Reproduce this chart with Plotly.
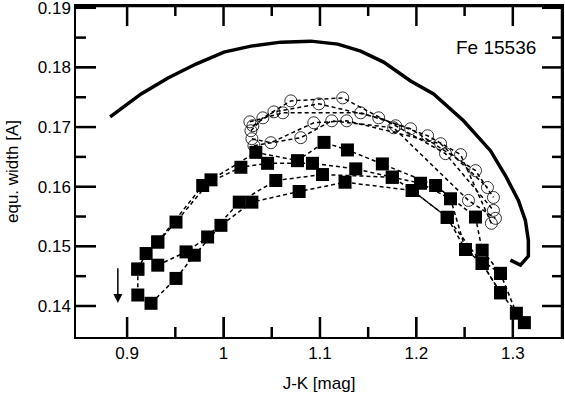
import plotly.graph_objects as go

# thick solid model curve
curve_x = [0.8824, 0.9145, 0.9424, 0.9714, 1.0004, 1.0284, 1.0594, 1.0905, 1.1184, 1.1422,
           1.1660, 1.1940, 1.2178, 1.2489, 1.2768, 1.2923, 1.3058, 1.3130, 1.3161, 1.3161,
           1.3079, 1.2975]
curve_y = [0.1717, 0.17556, 0.17823, 0.18057, 0.18257, 0.18357, 0.18424, 0.18441, 0.18391, 0.18274,
           0.18090, 0.17773, 0.17556, 0.17105, 0.16604, 0.16187, 0.15770, 0.15436, 0.15102, 0.14835,
           0.14684, 0.14768]

# filled squares, dashed
sq1_x = [0.9111, 0.9197, 0.9318, 0.9507, 0.9870, 1.0335, 1.0767, 1.1042, 1.1285, 1.1647, 1.2199, 1.2613, 1.2682, 1.2872, 1.3037]
sq1_y = [0.14618, 0.14880, 0.15073, 0.15407, 0.16115, 0.16576, 0.16437, 0.16743, 0.16616, 0.16382, 0.16020, 0.15491, 0.14935, 0.14546, 0.13878]
sq2_x = [0.9318, 0.9784, 1.0180, 1.0457, 1.0922, 1.1371, 1.1750, 1.2043, 1.2354, 1.2509, 1.2682, 1.2872, 1.3120]
sq2_y = [0.15073, 0.16020, 0.16326, 0.16392, 0.16392, 0.16299, 0.16159, 0.16058, 0.15798, 0.14947, 0.14713, 0.14222, 0.13721]
sq3_x = [0.9111, 0.9111, 0.9248, 0.9507, 0.9697, 0.9973, 1.0294, 1.0784, 1.1260, 1.1957, 1.2320, 1.2509, 1.2872]
sq3_y = [0.14618, 0.14184, 0.14045, 0.14462, 0.14851, 0.15352, 0.15741, 0.15920, 0.16075, 0.15937, 0.15486, 0.14947, 0.14546]
sq4_x = [0.9318, 0.9611, 0.9835, 1.0163, 1.0542, 1.1026, 1.1750, 1.1957, 1.2320, 1.2682, 1.2872]
sq4_y = [0.14684, 0.14907, 0.15157, 0.15741, 0.16104, 0.16204, 0.16159, 0.15937, 0.15486, 0.14713, 0.14222]

# open circles, dashed
c1_x = [1.0284, 1.0408, 1.0698, 1.1236, 1.1785, 1.2302, 1.2799]
c1_y = [0.16938, 0.17155, 0.17439, 0.17489, 0.17022, 0.16554, 0.15603]
c2_x = [1.0304, 1.0522, 1.0988, 1.1609, 1.2116, 1.2458, 1.2778]
c2_y = [0.17022, 0.17255, 0.17389, 0.17155, 0.16855, 0.16538, 0.15386]
c3_x = [1.0294, 1.0491, 1.0936, 1.1277, 1.2251, 1.2737]
c3_y = [0.16805, 0.16738, 0.17072, 0.17105, 0.16721, 0.15987]
c4_x = [1.0315, 1.0801, 1.1122, 1.1764, 1.2540, 1.2820]
c4_y = [0.16688, 0.16822, 0.17105, 0.16988, 0.15770, 0.15469]
c5_x = [1.0273, 1.0615, 1.1422, 1.1940, 1.2613, 1.2799]
c5_y = [0.17088, 0.17239, 0.17239, 0.16972, 0.16270, 0.15820]

arrow_x = 0.8904
arrow_y0 = 0.14656
arrow_y1 = 0.1405

# axes
x_range = [0.847, 1.351]
y_range = [0.1348, 0.1903]
x_major = [0.9, 1.0, 1.1, 1.2, 1.3]
x_labels = ["0.9", "1", "1.1", "1.2", "1.3"]
x_minor = [0.95, 1.05, 1.15, 1.25]
y_major = [0.14, 0.15, 0.16, 0.17, 0.18, 0.19]
y_minor = [0.145, 0.155, 0.165, 0.175, 0.185]

W, H = 565, 395
ML, MR, MT, MB = 76, 3, 6, 58
px_x = (x_range[1] - x_range[0]) / (W - ML - MR)   # data units per pixel
px_y = (y_range[1] - y_range[0]) / (H - MT - MB)

fig = go.Figure()

# inside ticks on all four sides and the top/right frame edges
frame_line = dict(color="black", width=2.5)
for vals, ln in [(x_major, 20), (x_minor, 10)]:
    for v in vals:
        fig.add_trace(go.Scatter(x=[v, v], y=[y_range[0], y_range[0] + ln * px_y],
                                 mode="lines", line=frame_line, hoverinfo="skip"))
        fig.add_trace(go.Scatter(x=[v, v], y=[y_range[1], y_range[1] - ln * px_y],
                                 mode="lines", line=frame_line, hoverinfo="skip"))
for vals, ln in [(y_major, 20), (y_minor, 10)]:
    for v in vals:
        if v >= y_range[1] - px_y:
            continue
        fig.add_trace(go.Scatter(x=[x_range[0], x_range[0] + ln * px_x], y=[v, v],
                                 mode="lines", line=frame_line, hoverinfo="skip"))
        fig.add_trace(go.Scatter(x=[x_range[1], x_range[1] - ln * px_x], y=[v, v],
                                 mode="lines", line=frame_line, hoverinfo="skip"))
fig.add_trace(go.Scatter(x=[x_range[0], x_range[1], x_range[1]],
                         y=[y_range[1], y_range[1], y_range[0]],
                         mode="lines", cliponaxis=False, line=frame_line, hoverinfo="skip"))

dash = "4px,3px"
for cx, cy in [(c1_x, c1_y), (c2_x, c2_y), (c3_x, c3_y), (c4_x, c4_y), (c5_x, c5_y)]:
    fig.add_trace(go.Scatter(x=cx, y=cy, mode="lines+markers",
                             line=dict(color="black", width=1.5, dash=dash),
                             marker=dict(symbol="circle-open", size=12, color="black",
                                         line=dict(width=0.8, color="black"))))

for sx, sy in [(sq1_x, sq1_y), (sq2_x, sq2_y), (sq3_x, sq3_y), (sq4_x, sq4_y)]:
    fig.add_trace(go.Scatter(x=sx, y=sy, mode="lines+markers",
                             line=dict(color="black", width=1.5, dash=dash),
                             marker=dict(symbol="square", size=13, color="black")))

fig.add_trace(go.Scatter(x=curve_x, y=curve_y, mode="lines",
                         line=dict(color="black", width=3.5)))

fig.add_annotation(x=arrow_x, y=arrow_y1, ax=arrow_x, ay=arrow_y0,
                   xref="x", yref="y", axref="x", ayref="y",
                   showarrow=True, arrowhead=2, arrowsize=1.2, arrowwidth=1.5,
                   arrowcolor="black", text="")

fig.add_annotation(x=0.95, y=0.876, xref="paper", yref="paper", text="Fe 15536",
                   showarrow=False, xanchor="right", yanchor="middle",
                   font=dict(size=19, color="black"))

fig.update_xaxes(range=x_range, tickvals=x_major, ticktext=x_labels,
                 showgrid=False, zeroline=False, showline=True, linecolor="black",
                 linewidth=1.5, mirror=True, ticks="inside", ticklen=20,
                 tickwidth=1.5, tickcolor="black", automargin=False,
                 ticklabeloverflow="allow",
                 tickfont=dict(size=17, color="black"),
                 title=dict(text="J-K [mag]", font=dict(size=17, color="black")))
fig.update_yaxes(range=y_range, tickvals=y_major, tickformat=".2f",
                 showgrid=False, zeroline=False, showline=True, linecolor="black",
                 linewidth=1.5, mirror=True, ticks="inside", ticklen=20,
                 tickwidth=1.5, tickcolor="black", automargin=False,
                 ticklabeloverflow="allow",
                 tickfont=dict(size=17, color="black"),
                 title=dict(text="equ. width [A]", font=dict(size=17, color="black")))

fig.update_layout(width=W, height=H, showlegend=False,
                  margin=dict(l=ML, r=MR, t=MT, b=MB),
                  paper_bgcolor="white", plot_bgcolor="white",
                  font=dict(family="Liberation Sans, Arial, sans-serif", color="black"))

fig.write_html("out.html", config={"displayModeBar": False},
               post_script="document.body.style.margin='0';document.body.style.overflow='hidden';")
